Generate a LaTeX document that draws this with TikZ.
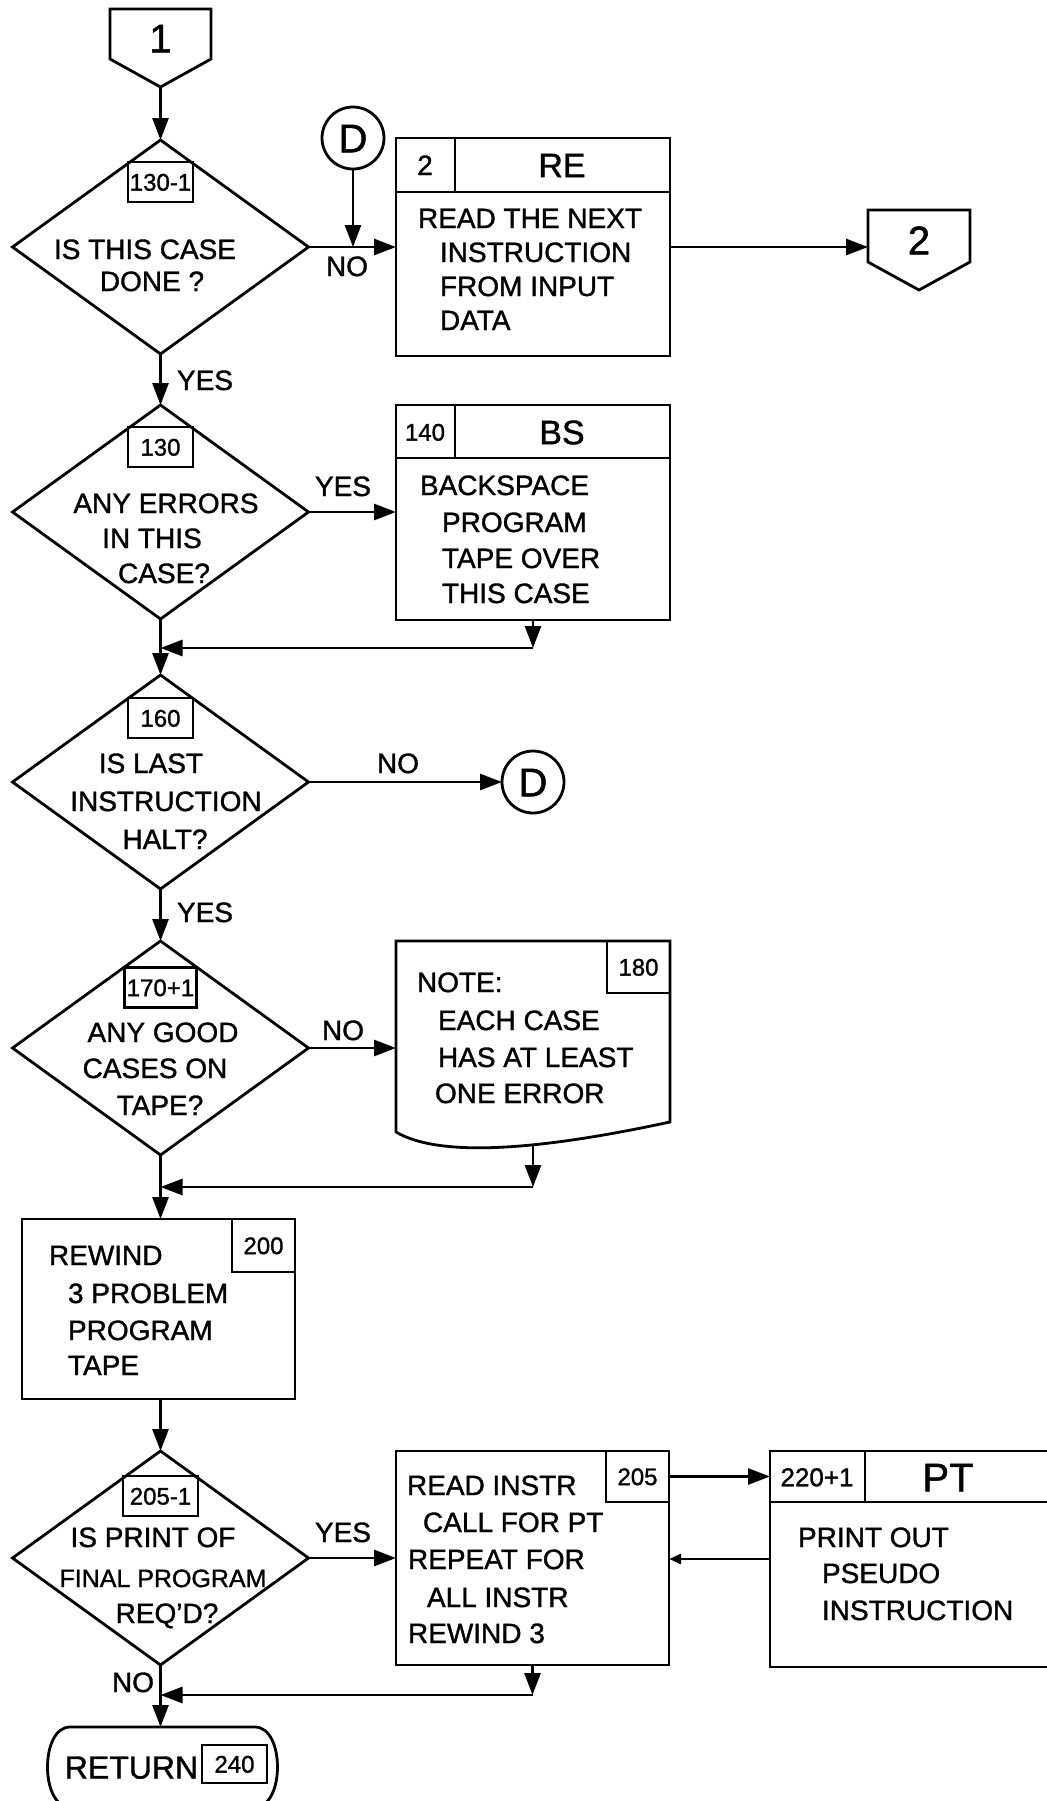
\documentclass[tikz,border=0pt]{standalone}
\usepackage{fontspec}
\setmainfont{Liberation Sans}[FakeBold=1.2]
\usetikzlibrary{shapes.geometric,arrows.meta,calc}
\begin{document}
\begin{tikzpicture}[x=0.5pt,y=-0.5pt,
  line width=1.4pt,
  every node/.style={inner sep=0pt, outer sep=0pt},
  lt/.style={anchor=west, text height=10pt, text depth=0pt, font=\fontsize{14}{16}\selectfont},
  ct/.style={anchor=center, text height=10pt, text depth=0pt, font=\fontsize{14}{16}\selectfont},
  dia/.style={draw, diamond, minimum width=148pt, minimum height=107pt},
  lbl/.style={draw, minimum height=20pt, text height=8.6pt, text depth=0pt, font=\fontsize{12}{14}\selectfont},
  cell/.style={draw, text height=8.6pt, text depth=0pt, font=\fontsize{12}{14}\selectfont},
  big/.style={anchor=center, text height=12.2pt, text depth=0pt, font=\fontsize{17}{19}\selectfont},
  huge/.style={anchor=center, text height=14.3pt, text depth=0pt, font=\fontsize{20}{22}\selectfont},
  box/.style={draw, minimum width=137pt},
  arr/.style={-{Triangle[length=11pt,width=8pt]}},
  arrs/.style={-{Triangle[length=6pt,width=5pt]}},
]
\useasboundingbox (0,0) rectangle (1047,1801);
\clip (0,0) rectangle (1047,1801);

% ---------- off-page connector 1
\node[minimum width=50.5pt, minimum height=25pt] (op1) at (160.5,34) {};
\draw (op1.north west) -- (op1.north east) -- (op1.south east) -- (160.5,87) coordinate (op1tip) -- (op1.south west) -- cycle;
\node[huge] (op1t) at (160.5,38) {1};

% ---------- decision 130-1
\node[dia] (d1) at (160.5,247) {};
\node[lbl, minimum width=32.5pt] (l1) at (160.5,182) {130-1};
\node[ct] (d1a) at (145,249) {IS THIS CASE};
\node[ct] (d1b) at (152,281) {DONE ?};
\draw[arr] (op1tip) -- (d1.north);

% connector D (entry)
\node[draw, circle, minimum size=31pt, huge] (D1) at (353,138) {D};
\draw[arr] (D1.south) -- (D1.south |- d1.east);

% ---------- RE box
\node[box, minimum height=109pt] (re) at (533,247) {};
\draw ($(re.north west)+(0,54)$) -- ($(re.north east)+(0,54)$);
\draw ($(re.north west)+(59,0)$) -- ($(re.north west)+(59,54)$);
\node[ct] (re2) at (425,165) {2};
\node[big] (ret) at (562,165) {RE};
\node[lt] (re1) at (418,218) {READ THE NEXT};
\node[lt] (re3) at (440,252) {INSTRUCTION};
\node[lt] (re4) at (440,286) {FROM INPUT};
\node[lt] (re5) at (440,320) {DATA};
\draw[arr] (d1.east) -- (d1.east -| re.west);
\node[ct] (no1) at (347,266) {NO};

% off-page connector 2
\node[minimum width=51pt, minimum height=26pt] (op2) at (919,236) {};
\draw (op2.north west) -- (op2.north east) -- (op2.south east) -- (919,290) -- (op2.south west) -- cycle;
\node[huge] (op2t) at (919,240) {2};
\draw[arr] (re.east |- d1.east) -- (d1.east -| op2.west);

% ---------- decision 130
\node[lt] (yes1) at (177,380) {YES};
\node[dia] (d2) at (160.5,512) {};
\node[lbl, minimum width=32.5pt] (l2) at (160.5,447) {130};
\node[ct] (d2a) at (166,503) {ANY ERRORS};
\node[ct] (d2b) at (152,538) {IN THIS};
\node[ct] (d2c) at (164,573) {CASE?};
\draw[arr] (d1.south) -- (d2.north);

% BS box
\node[box, minimum height=107.5pt] (bs) at (533,512.5) {};
\draw ($(bs.north west)+(0,53)$) -- ($(bs.north east)+(0,53)$);
\draw ($(bs.north west)+(59,0)$) -- ($(bs.north west)+(59,53)$);
\node[ct, font=\fontsize{12}{14}\selectfont, text height=8.6pt] (bs1) at (425,432) {140};
\node[big] (bst) at (562,432) {BS};
\node[lt] (bs2) at (420,485) {BACKSPACE};
\node[lt] (bs3) at (442,522) {PROGRAM};
\node[lt] (bs4) at (442,558) {TAPE OVER};
\node[lt] (bs5) at (442,593) {THIS CASE};
\draw[arr] (d2.east) -- (d2.east -| bs.west);
\node[ct] (yes2) at (343,486) {YES};
\coordinate (m1r) at (533,648);
\coordinate (m1) at (160.5,648);
\draw[arr] (bs.south) -- (m1r);
\draw[arr] (m1r) -- (m1);

% ---------- decision 160
\node[dia] (d3) at (160.5,782) {};
\node[lbl, minimum width=32.5pt] (l3) at (160.5,718) {160};
\node[ct] (d3a) at (151,763) {IS LAST};
\node[ct] (d3b) at (166,801) {INSTRUCTION};
\node[ct] (d3c) at (165,839) {HALT?};
\draw[arr] (d2.south) -- (d3.north);
\node[draw, circle, minimum size=31pt, huge] (D2) at (533,782) {D};
\draw[arr] (d3.east) -- (D2.west);
\node[ct] (no3) at (398,763) {NO};
\node[lt] (yes3) at (177,912) {YES};

% ---------- decision 170+1
\node[dia] (d4) at (160.5,1048) {};
\node[lbl, minimum width=36pt] (l4) at (160.5,987.5) {170+1};
\node[ct] (d4a) at (163,1032) {ANY GOOD};
\node[ct] (d4b) at (155,1068) {CASES ON};
\node[ct] (d4c) at (160,1105) {TAPE?};
\draw[arr] (d3.south) -- (d4.north);

% note 180 (document shape)
\node[minimum width=137pt, minimum height=103pt] (note) at (533,1044) {};
\draw (396,1132) -- (note.north west) -- (note.north east) -- (670,1122)
  .. controls (540,1150) and (440,1158) .. (396,1132) -- cycle;
\node[cell, minimum width=31.5pt, minimum height=26pt] (l5) at (638.5,967) {180};
\node[lt] (n1) at (417,982) {NOTE:};
\node[lt] (n2) at (438,1020) {EACH CASE};
\node[lt] (n3) at (438,1057) {HAS AT LEAST};
\node[lt] (n4) at (435,1093) {ONE ERROR};
\draw[arr] (d4.east) -- (d4.east -| note.west);
\node[ct] (no4) at (343,1030) {NO};
\coordinate (nb) at (533,1145);
\coordinate (m2r) at (533,1187);
\coordinate (m2) at (160.5,1187);
\draw[arr] (nb) -- (m2r);
\draw[arr] (m2r) -- (m2);

% ---------- process 200
\node[draw, minimum width=136.5pt, minimum height=90pt] (p200) at (158.5,1309) {};
\node[cell, minimum width=31.5pt, minimum height=26.5pt] (l200) at (263.5,1245.5) {200};
\node[lt] (p1) at (49,1255) {REWIND};
\node[lt] (p2) at (68,1293) {3 PROBLEM};
\node[lt] (p3) at (68,1330) {PROGRAM};
\node[lt] (p4) at (68,1365) {TAPE};
\draw[arr] (d4.south) -- (d4.south |- p200.north);

% ---------- decision 205-1
\node[dia] (d5) at (160.5,1558) {};
\node[lbl, minimum width=37.5pt] (l6) at (160.5,1496) {205-1};
\node[ct] (d5a) at (153,1537) {IS PRINT OF};
\node[ct, font=\fontsize{12.5}{14}\selectfont] (d5b) at (163,1577) {FINAL PROGRAM};
\node[ct] (d5c) at (167,1613) {REQ'D?};
\draw[arr] (d5.north |- p200.south) -- (d5.north);

% process 205
\node[draw, minimum width=136.5pt, minimum height=107pt] (p205) at (532.5,1558) {};
\node[cell, minimum width=31.5pt, minimum height=25.5pt] (c205) at (637.5,1476.5) {205};
\node[lt] (q1) at (407,1485) {READ INSTR};
\node[lt] (q2) at (423,1522) {CALL FOR PT};
\node[lt] (q3) at (408,1559) {REPEAT FOR};
\node[lt] (q4) at (427,1597) {ALL INSTR};
\node[lt] (q5) at (408,1633) {REWIND 3};
\draw[arr] (d5.east) -- (d5.east -| p205.west);
\node[ct] (yes5) at (343,1532) {YES};

% PT box
\node[draw, minimum width=150pt, minimum height=108pt] (pt) at (920,1559) {};
\draw ($(pt.north west)+(0,51)$) -- ($(pt.north east)+(0,51)$);
\draw ($(pt.north west)+(95,0)$) -- ($(pt.north west)+(95,51)$);
\node[ct, font=\fontsize{13}{15}\selectfont, text height=9.3pt] (pt1) at (817,1477) {220+1};
\node[huge] (ptt) at (948,1477) {PT};
\node[lt] (pt2) at (798,1537) {PRINT OUT};
\node[lt] (pt3) at (822,1573) {PSEUDO};
\node[lt] (pt4) at (822,1610) {INSTRUCTION};
\draw[arr] (c205.east) -- (c205.east -| pt.west);
\draw[arrs] (pt.west) -- (pt.west -| p205.east);

% merge and return
\node[ct] (no5) at (133,1682) {NO};
\coordinate (m3r) at (532.5,1695);
\coordinate (m3) at (160.5,1695);
\draw[arr] (p205.south) -- (m3r);
\draw[arr] (m3r) -- (m3);
\node[minimum width=114.5pt, minimum height=40pt] (term) at (162.5,1767) {};
\draw (70,1727) -- (255,1727) .. controls (285,1727) and (285,1807) .. (255,1807)
  -- (70,1807) .. controls (40,1807) and (40,1727) .. (70,1727) -- cycle;
\node[ct, font=\fontsize{16}{18}\selectfont, text height=11.5pt] (ret1) at (131.5,1767) {RETURN};
\node[cell, minimum width=32.5pt, minimum height=19pt] (l240) at (234.5,1764) {240};
\draw[arr] (d5.south) -- (d5.south |- term.north);
\end{tikzpicture}
\end{document}
